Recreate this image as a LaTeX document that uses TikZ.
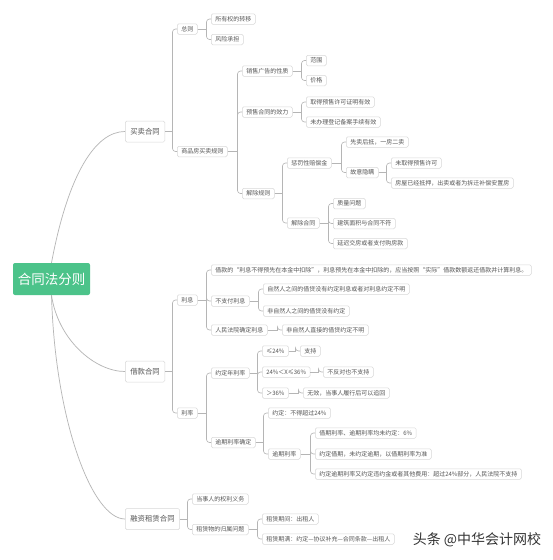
\documentclass[tikz,border=0pt]{standalone}
\usepackage{fontspec}
\setmainfont{Noto Sans CJK SC}
\usetikzlibrary{calc}
\definecolor{rootgreen}{HTML}{4CC38A}
\definecolor{linegray}{HTML}{B5B5B5}
\definecolor{boxgray}{HTML}{D8D8D8}
\definecolor{txtgray}{HTML}{555555}
\definecolor{wmark}{HTML}{333333}
\tikzset{
  leaf/.style={draw=boxgray, fill=white, rounded corners=1.5pt, line width=0.5pt, text=txtgray,
    font=\fontsize{6}{7}\selectfont, inner xsep=4pt, inner ysep=0pt, minimum height=10.5pt, anchor=west},
  mainbox/.style={leaf, font=\fontsize{7.4}{9}\selectfont, minimum height=21pt, inner xsep=5pt},
  rootbox/.style={fill=rootgreen, text=white, rounded corners=2pt, font=\fontsize{13.5}{16}\selectfont,
    minimum width=77pt, minimum height=32pt, inner sep=0pt},
  conn/.style={draw=linegray, line width=0.6pt, rounded corners=3pt},
  curve/.style={draw=linegray, line width=0.7pt},
  wm/.style={text=wmark, font=\fontsize{14}{16}\selectfont},
}
\newcommand\br[2]{%
  \draw[conn] (#1.east) -- ($(#2.west |- #1.east)+(-4.5,0)$);
  \draw[conn] ($(#2.west |- #1.east)+(-4.5,0)$) |- (#2.west);}
\begin{document}
\begin{tikzpicture}[x=1pt,y=-1pt]
\useasboundingbox (0,0) rectangle (553,560);
\fill[white] (0,0) rectangle (553,560);
% root
\node[rootbox] (root) at (51.5,279) {合同法分则};
% level 1
\node[mainbox] (A) at (125,131.5) {买卖合同};
\node[mainbox] (B) at (125,371.5) {借款合同};
\node[mainbox] (C) at (125,519) {融资租赁合同};
\draw[curve] (root.north) .. controls (68,175) and (95,131.5) .. (A.west);
\draw[curve] (root.south) .. controls (58,340) and (95,371.5) .. (B.west);
\draw[curve] (root.south) .. controls (55,420) and (92,519) .. (C.west);
% ---- 买卖合同
\node[leaf] (a1) at (177,29) {总则};
\node[leaf] (a2) at (177,151.5) {商品房买卖规则};
\node[leaf] (a11) at (211,19) {所有权的转移};
\node[leaf] (a12) at (211,39.5) {风险承担};
\node[leaf] (a21) at (242,71) {销售广告的性质};
\node[leaf] (a22) at (242,112) {预售合同的效力};
\node[leaf] (a23) at (242,193.5) {解除规则};
\node[leaf] (a211) at (306,60.5) {范围};
\node[leaf] (a212) at (306,80.5) {价格};
\node[leaf] (a221) at (306,102) {取得预售许可证明有效};
\node[leaf] (a222) at (306,122) {未办理登记备案手续有效};
\node[leaf] (a231) at (287,163) {惩罚性赔偿金};
\node[leaf] (a232) at (287,223) {解除合同};
\node[leaf] (p1) at (346,142) {先卖后抵，一房二卖};
\node[leaf] (p2) at (346,172.5) {故意隐瞒};
\node[leaf] (q1) at (391,163) {未取得预售许可};
\node[leaf] (q2) at (391,183) {房屋已经抵押，出卖或者为拆迁补偿安置房};
\node[leaf] (r1) at (333,203.5) {质量问题};
\node[leaf] (r2) at (333,223.5) {建筑面积与合同不符};
\node[leaf] (r3) at (333,243.5) {延迟交房或者支付购房款};
\br{A}{a1}\br{A}{a2}
\br{a1}{a11}\br{a1}{a12}
\br{a2}{a21}\br{a2}{a22}\br{a2}{a23}
\br{a21}{a211}\br{a21}{a212}
\br{a22}{a221}\br{a22}{a222}
\br{a23}{a231}\br{a23}{a232}
\br{a231}{p1}\br{a231}{p2}
\br{p2}{q1}\br{p2}{q2}
\br{a232}{r1}\br{a232}{r2}\br{a232}{r3}
% ---- 借款合同
\node[leaf] (b1) at (177,300) {利息};
\node[leaf] (b2) at (177,413) {利率};
\node[leaf] (b11) at (211,270) {借款的“利息不得预先在本金中扣除”，利息预先在本金中扣除的，应当按照“实际”借款数额返还借款并计算利息。};
\node[leaf] (b12) at (211,301) {不支付利息};
\node[leaf] (b13) at (211,330) {人民法院确定利息};
\node[leaf] (b121) at (263,289) {自然人之间的借贷没有约定利息或者对利息约定不明};
\node[leaf] (b122) at (263,311) {非自然人之间的借贷没有约定};
\node[leaf] (b131) at (282,330) {非自然人直接的借贷约定不明};
\node[leaf] (b21) at (211,373) {约定年利率};
\node[leaf] (b22) at (211,442.5) {逾期利率确定};
\node[leaf] (s1) at (262,351) {≤24\%};
\node[leaf] (s2) at (262,372) {24\%＜X≤36\%};
\node[leaf] (s3) at (262,393) {＞36\%};
\node[leaf] (s11) at (300,351) {支持};
\node[leaf] (s21) at (323,372) {不反对也不支持};
\node[leaf] (s31) at (303,393) {无效，当事人履行后可以追回};
\node[leaf] (t1) at (268,413) {约定：不得超过24\%};
\node[leaf] (t2) at (268,454) {逾期利率};
\node[leaf] (u1) at (315,433) {借期利率、逾期利率均未约定：6\%};
\node[leaf] (u2) at (315,454) {约定借期，未约定逾期，以借期利率为准};
\node[leaf] (u3) at (315,474) {约定逾期利率又约定违约金或者其他费用：超过24\%部分，人民法院不支持};
\br{B}{b1}\br{B}{b2}
\br{b1}{b11}\br{b1}{b12}\br{b1}{b13}
\br{b12}{b121}\br{b12}{b122}
\br{b13}{b131}
\br{b2}{b21}\br{b2}{b22}
\br{b21}{s1}\br{b21}{s2}\br{b21}{s3}
\br{s1}{s11}\br{s2}{s21}\br{s3}{s31}
\br{b22}{t1}\br{b22}{t2}
\br{t2}{u1}\br{t2}{u2}\br{t2}{u3}
% ---- 融资租赁合同
\node[leaf] (c1) at (192,499) {当事人的权利义务};
\node[leaf] (c2) at (192,529.5) {租赁物的归属问题};
\node[leaf] (v1) at (262,519) {租赁期间：出租人};
\node[leaf] (v2) at (262,539) {租赁期满：约定—协议补充—合同条款—出租人};
\br{C}{c1}\br{C}{c2}
\br{c2}{v1}\br{c2}{v2}
% watermark
\node[wm] (wmk) at (477,540) {头条 @中华会计网校};
\end{tikzpicture}
\end{document}
